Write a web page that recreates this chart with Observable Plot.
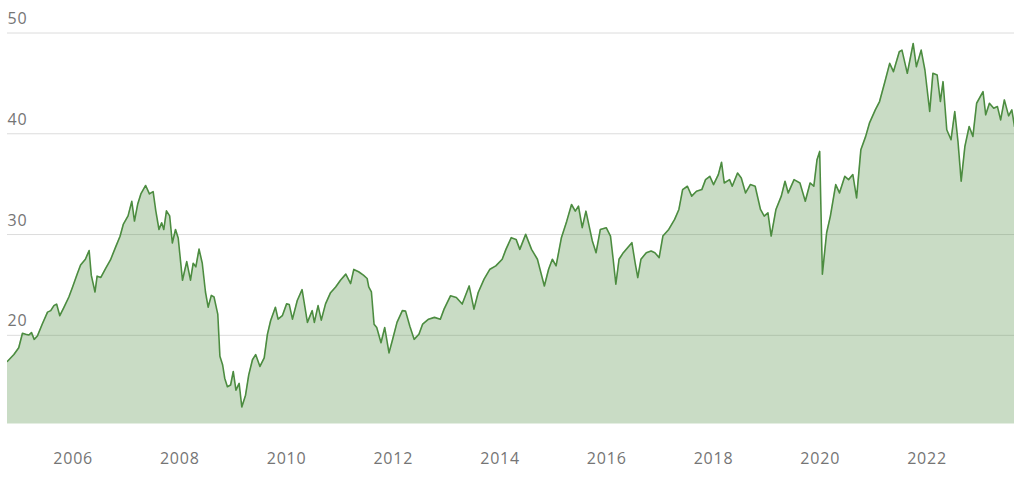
<!DOCTYPE html>
<html>
<head>
<meta charset="utf-8">
<script src="https://cdn.jsdelivr.net/npm/d3@7"></script>
<script src="https://cdn.jsdelivr.net/npm/@observablehq/plot@0.6"></script>
<style>
  html, body { margin: 0; padding: 0; background: #fff; }
  #chart svg { display: block; }
</style>
</head>
<body>
<div id="chart"></div>
<script>
// Decimal years
const years = [
  2004.77, 2004.89, 2004.98, 2005.05, 2005.11, 2005.17, 2005.22, 2005.27, 2005.33, 2005.42,
  2005.52, 2005.58, 2005.64, 2005.69, 2005.75, 2005.83, 2005.92, 2005.99, 2006.08, 2006.14,
  2006.23, 2006.30, 2006.34, 2006.41, 2006.45, 2006.52, 2006.61, 2006.70, 2006.80, 2006.88,
  2006.94, 2007.03, 2007.10, 2007.15, 2007.21, 2007.27, 2007.36, 2007.43, 2007.50, 2007.55,
  2007.61, 2007.66, 2007.70, 2007.75, 2007.81, 2007.86, 2007.92, 2007.97, 2008.05, 2008.13,
  2008.20, 2008.25, 2008.30, 2008.36, 2008.42, 2008.48, 2008.53, 2008.59, 2008.64, 2008.71,
  2008.75, 2008.80, 2008.84, 2008.89, 2008.95, 2009.00, 2009.05, 2009.11, 2009.16, 2009.23,
  2009.29, 2009.36, 2009.42, 2009.50, 2009.58, 2009.64, 2009.70, 2009.79, 2009.84, 2009.92,
  2010.00, 2010.05, 2010.11, 2010.20, 2010.29, 2010.39, 2010.48, 2010.52, 2010.59, 2010.65,
  2010.73, 2010.82, 2010.92, 2011.01, 2011.11, 2011.20, 2011.26, 2011.35, 2011.44, 2011.51,
  2011.54, 2011.59, 2011.64, 2011.69, 2011.77, 2011.84, 2011.92, 2011.98, 2012.07, 2012.17,
  2012.23, 2012.31, 2012.39, 2012.48, 2012.55, 2012.66, 2012.77, 2012.88, 2012.95, 2013.07,
  2013.18, 2013.29, 2013.42, 2013.51, 2013.59, 2013.70, 2013.81, 2013.92, 2014.04, 2014.11,
  2014.21, 2014.30, 2014.37, 2014.48, 2014.59, 2014.70, 2014.83, 2014.91, 2014.98, 2015.05,
  2015.15, 2015.25, 2015.34, 2015.41, 2015.47, 2015.54, 2015.61, 2015.67, 2015.73, 2015.80,
  2015.88, 2015.99, 2016.07, 2016.12, 2016.17, 2016.23, 2016.31, 2016.39, 2016.47, 2016.53,
  2016.58, 2016.64, 2016.74, 2016.83, 2016.90, 2016.98, 2017.05, 2017.16, 2017.27, 2017.35,
  2017.42, 2017.51, 2017.59, 2017.68, 2017.78, 2017.85, 2017.93, 2018.00, 2018.09, 2018.15,
  2018.20, 2018.30, 2018.35, 2018.45, 2018.52, 2018.60, 2018.69, 2018.78, 2018.88, 2018.95,
  2019.02, 2019.08, 2019.17, 2019.27, 2019.34, 2019.40, 2019.51, 2019.62, 2019.72, 2019.81,
  2019.88, 2019.94, 2019.99, 2020.04, 2020.12, 2020.19, 2020.29, 2020.36, 2020.46, 2020.53,
  2020.61, 2020.68, 2020.76, 2020.85, 2020.92, 2021.03, 2021.11, 2021.21, 2021.30, 2021.37,
  2021.48, 2021.53, 2021.63, 2021.74, 2021.80, 2021.89, 2021.96, 2022.05, 2022.11, 2022.19,
  2022.25, 2022.30, 2022.37, 2022.45, 2022.52, 2022.58, 2022.64, 2022.71, 2022.79, 2022.86,
  2022.93, 2023.05, 2023.10, 2023.17, 2023.25, 2023.32, 2023.38, 2023.45, 2023.53, 2023.59,
  2023.64
];

const values = [
  17.42, 18.09, 18.76, 20.2, 20.1, 20.03, 20.27, 19.6, 19.93, 21.1,
  22.3, 22.45, 22.95, 23.1, 21.95, 22.8, 23.8, 24.8, 26.14, 26.98,
  27.55, 28.42, 25.97, 24.3, 25.87, 25.74, 26.64, 27.48, 28.8, 29.83,
  31.0, 31.85, 33.29, 31.34, 33.0, 34.03, 34.87, 34.03, 34.26, 32.35,
  30.5, 31.17, 30.5, 32.35, 31.85, 29.16, 30.5, 29.66, 25.47, 27.32,
  25.47, 27.15, 26.8, 28.56, 27.15, 24.3, 22.79, 23.96, 23.8, 22.11,
  17.92, 17.08, 15.74, 14.9, 15.07, 16.41, 14.56, 15.23, 12.89, 14.06,
  16.07, 17.58, 18.09, 16.91, 17.76, 20.1, 21.44, 22.79, 21.61, 21.95,
  23.12, 23.05, 21.61, 23.46, 24.53, 21.28, 22.45, 21.28, 22.95, 21.51,
  23.12, 24.19, 24.8, 25.47, 26.07, 25.13, 26.54, 26.31, 25.97, 25.64,
  24.8, 24.3, 21.1, 20.77, 19.26, 20.77, 18.26, 19.43, 21.28, 22.45,
  22.4, 20.9, 19.6, 20.1, 21.12, 21.6, 21.78, 21.6, 22.6, 23.92,
  23.76, 23.1, 24.9, 22.6, 24.25, 25.57, 26.56, 26.89, 27.55, 28.53,
  29.69, 29.52, 28.53, 30.02, 28.53, 27.55, 24.9, 26.56, 27.55, 26.89,
  29.69, 31.33, 32.98, 32.32, 32.82, 30.68, 32.32, 30.84, 29.36, 28.2,
  30.51, 30.68, 29.85, 27.55, 25.07, 27.55, 28.2, 28.7, 29.19, 27.22,
  25.73, 27.55, 28.2, 28.37, 28.2, 27.71, 29.85, 30.51, 31.5, 32.49,
  34.46, 34.79, 33.81, 34.3, 34.46, 35.45, 35.78, 34.96, 35.95, 37.17,
  35.12, 35.45, 34.79, 36.11, 35.62, 34.13, 34.96, 34.79, 32.49, 31.83,
  32.16, 29.85, 32.49, 33.81, 35.29, 34.13, 35.45, 35.12, 33.31, 35.12,
  34.79, 37.43, 38.25, 26.06, 30.18, 31.83, 34.96, 34.13, 35.78, 35.45,
  35.95, 33.64, 38.42, 39.74, 41.05, 42.37, 43.2, 45.17, 46.99, 46.16,
  48.14, 48.3, 46.0, 48.96, 46.66, 48.3, 46.33, 42.21, 46.0, 45.83,
  43.2, 45.17, 40.4, 39.41, 42.21, 39.24, 35.29, 38.75, 40.72, 39.74,
  43.03, 44.18, 41.88, 43.03, 42.54, 42.7, 41.38, 43.36, 41.78, 42.37,
  40.72
];

const yTicks = [20, 30, 40, 50];
const yMin = 11.2;

function fromDecimalYear(y) {
  const yr = Math.floor(y);
  const start = Date.UTC(yr, 0, 1), end = Date.UTC(yr + 1, 0, 1);
  return new Date(start + (y - yr) * (end - start));
}

const data = years.map((y, i) => ({ date: fromDecimalYear(y), value: values[i] }));

const green = "#4c8c40";
const textStyle = { fontFamily: "'Open Sans', sans-serif", fontSize: "16px", letterSpacing: "0.8px" };

const chart = Plot.plot({
  width: 1024,
  height: 477,
  marginLeft: 7,
  marginRight: 10,
  marginTop: 32.5,
  marginBottom: 53.5,
  style: { background: "#fff", ...textStyle, color: "#757575" },
  x: { type: "utc" },
  y: { domain: [yMin, 50] },
  marks: [
    Plot.gridY(yTicks, { stroke: "#dcdcdc", strokeOpacity: 1, strokeWidth: 1 }),
    Plot.areaY(data, { x: "date", y: "value", fill: green, fillOpacity: 0.3, clip: true }),
    Plot.lineY(data, { x: "date", y: "value", stroke: green, strokeWidth: 1.6, clip: true }),
    Plot.axisY(yTicks, {
      anchor: "left", tickSize: 0, tickPadding: 0, textAnchor: "start",
      dy: -14, fill: "#757575", label: null
    }),
    Plot.axisX({
      ticks: d3.utcYear.every(2), tickFormat: "%Y", tickSize: 0, tickPadding: 29,
      fill: "#757575", label: null
    })
  ]
});

document.getElementById("chart").appendChild(chart);
</script>
</body>
</html>
